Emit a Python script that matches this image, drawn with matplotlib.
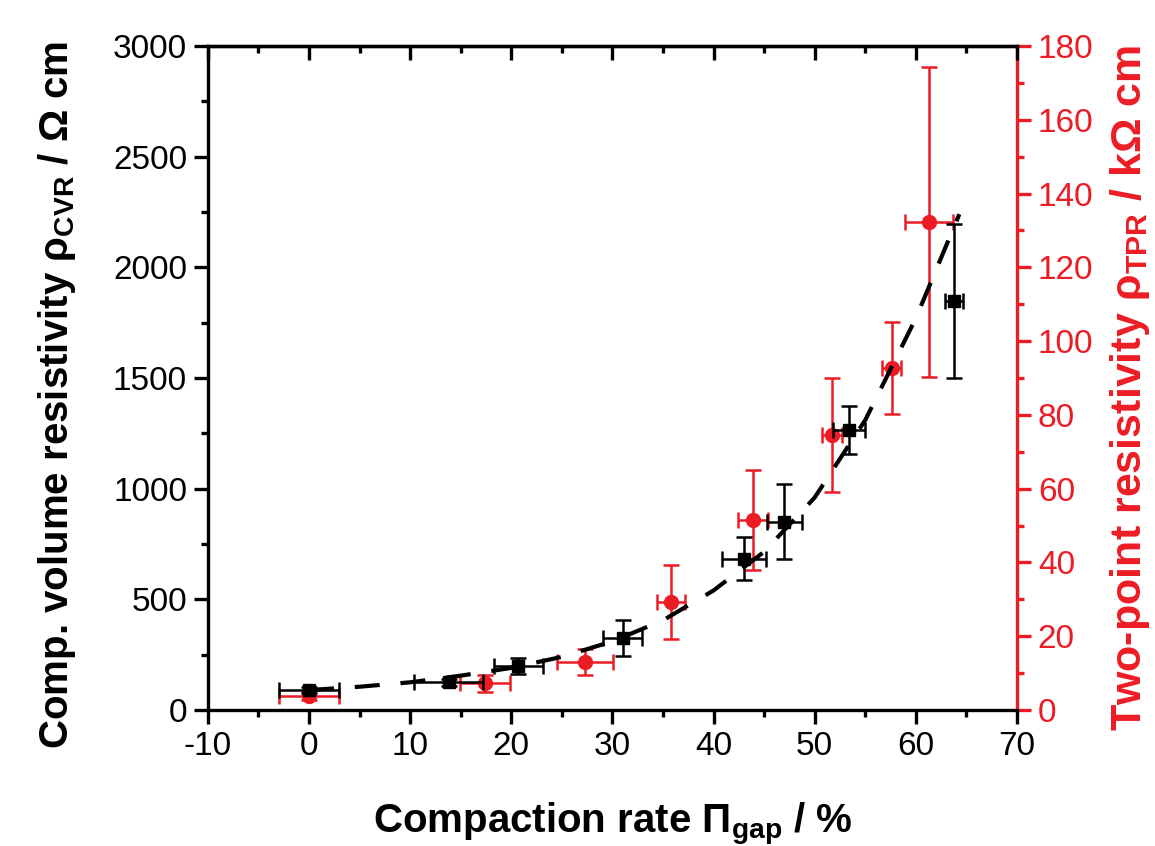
import numpy as np
import matplotlib
matplotlib.use("Agg")
import matplotlib.pyplot as plt

plt.rcParams['font.family'] = ['Liberation Sans', 'DejaVu Sans']
plt.rcParams['mathtext.fontset'] = 'custom'
plt.rcParams['mathtext.rm'] = 'Liberation Sans:bold'
plt.rcParams['mathtext.bf'] = 'Liberation Sans:bold'
plt.rcParams['mathtext.it'] = 'Liberation Sans:bold'
plt.rcParams['axes.unicode_minus'] = False

RED = '#ec1c24'

# comp. volume resistivity (left axis, Ohm cm)
cvr_x = [0.0, 13.8, 20.7, 31.0, 43.0, 47.0, 53.4, 63.8]
cvr_y = [90, 125, 199, 325, 683, 850, 1265, 1848]
cvr_xerr = [3.0, 3.4, 2.4, 1.9, 2.2, 1.7, 1.6, 0.9]
cvr_yerr = [15, 15, 35, 83, 98, 170, 110, 350]

# two-point resistivity (right axis, kOhm cm)
tpr_x = [0.0, 17.4, 27.3, 35.8, 43.9, 51.7, 57.6, 61.3]
tpr_y = [3.8, 7.3, 13.0, 29.3, 51.5, 74.5, 92.7, 132.4]
tpr_xerr = [3.0, 2.5, 2.8, 1.4, 1.5, 1.0, 0.9, 2.4]
tpr_yerr = [1.0, 2.3, 3.5, 10.0, 13.5, 15.5, 12.5, 42.0]

# dashed fit curve
fit_x = [0, 5, 10, 15, 20, 25, 30, 35, 40, 45, 50, 55, 60, 64.3]
fit_y = [90, 105, 125, 155, 190, 240, 310, 405, 540, 715, 960, 1310, 1770, 2240]

fig = plt.figure(figsize=(11.55, 8.46), dpi=100)
ax1 = fig.add_axes([0.180, 0.1608, 0.7005, 0.7848])
ax2 = ax1.twinx()
ax1.set_zorder(ax2.get_zorder() + 1)
ax1.patch.set_visible(False)

ax2.errorbar(tpr_x, tpr_y, xerr=tpr_xerr, yerr=tpr_yerr, fmt='o', color=RED,
             ms=10, elinewidth=1.8, capsize=6, capthick=1.8)

ax1.errorbar(cvr_x, cvr_y, xerr=cvr_xerr, yerr=cvr_yerr, fmt='s', color='black',
             ms=8.5, elinewidth=1.8, capsize=6, capthick=1.8)
ax1.plot(fit_x, fit_y, color='black', lw=3, dashes=(6, 5), zorder=5)

ax1.set_xlim(-10, 70)
ax1.set_ylim(0, 3000)
ax2.set_ylim(0, 180)
ax1.set_xticks(np.arange(-10, 71, 10))
ax1.set_xticks(np.arange(-5, 70, 10), minor=True)
ax1.set_yticks(np.arange(0, 3001, 500))
ax1.set_yticks(np.arange(250, 3000, 500), minor=True)
ax2.set_yticks(np.arange(0, 181, 20))
ax2.set_yticks(np.arange(10, 180, 20), minor=True)

for ax in (ax1, ax2):
    for s in ax.spines.values():
        s.set_linewidth(2.4)
ax2.spines['right'].set_color(RED)
ax2.spines['left'].set_visible(False)
ax2.spines['bottom'].set_visible(False)
ax2.spines['top'].set_visible(False)
ax1.spines['right'].set_visible(False)

# bottom/left ticks out
ax1.tick_params(which='major', direction='out', length=10, width=2.4, labelsize=24, pad=5)
ax1.tick_params(which='minor', direction='out', length=5, width=2.4)
ax2.tick_params(which='major', direction='out', length=10, width=2.4, labelsize=24,
                colors=RED, pad=5)
ax2.tick_params(which='minor', direction='out', length=5, width=2.4, colors=RED)

# mirrored top axis with inward ticks
ax3 = ax1.twiny()
ax3.set_xlim(ax1.get_xlim())
ax3.set_xticks(np.arange(-10, 71, 10))
ax3.set_xticks(np.arange(-5, 70, 10), minor=True)
ax3.tick_params(which='major', direction='in', length=10, width=2.4, labeltop=False)
ax3.tick_params(which='minor', direction='in', length=5, width=2.4)
for s in ('left', 'right', 'bottom'):
    ax3.spines[s].set_visible(False)
ax3.spines['top'].set_linewidth(2.4)

ax1.set_xlabel('Compaction rate Π$_{\\mathrm{gap}}$ / %', fontsize=29, fontweight='bold', labelpad=28)
ax1.set_ylabel('Comp. volume resistivity ρ$_{\\mathrm{CVR}}$ / Ω cm', fontsize=29,
               fontweight='bold')
ax1.yaxis.set_label_coords(-0.160, 0.475)
ax2.set_ylabel('Two-point resistivity ρ$_{\\mathrm{TPR}}$ / kΩ cm', fontsize=31,
               fontweight='bold', color=RED, rotation=90)
ax2.yaxis.set_label_coords(1.113, 0.485)

fig.savefig('out.png', dpi=100)
